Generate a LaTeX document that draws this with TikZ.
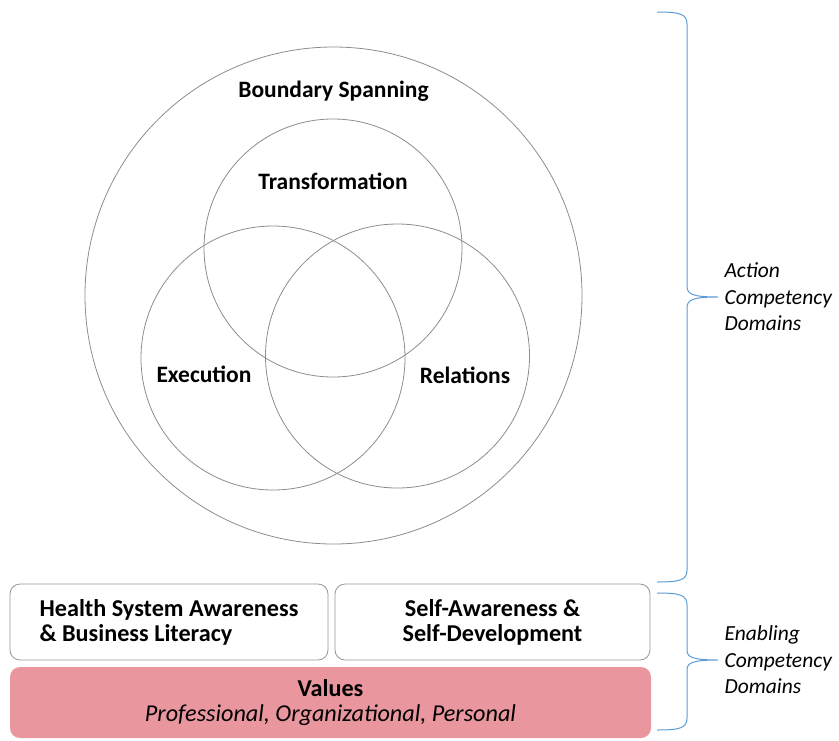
\documentclass[tikz,border=0pt]{standalone}
\usepackage{fontspec}
\setmainfont{Carlito}
\usetikzlibrary{positioning}
\definecolor{ringgray}{RGB}{140,140,140}
\definecolor{boxgray}{RGB}{150,150,150}
\definecolor{valuepink}{RGB}{233,150,158}
\definecolor{braceblue}{RGB}{91,155,213}

\begin{document}
\begin{tikzpicture}[x=1pt, y=-1pt,
    every node/.style={align=center, font=\fontsize{23.5}{25}\selectfont\bfseries},
    ring/.style={draw=ringgray, line width=0.8pt, circle, inner sep=0pt},
    dombox/.style={draw=boxgray, line width=0.8pt, rounded corners=10pt, minimum height=76pt, inner sep=0pt,
      font=\fontsize{24.2}{25}\selectfont\bfseries},
    sidelbl/.style={anchor=west, align=left, font=\fontsize{21.5}{26.5}\selectfont\itshape},
    bracepath/.style={draw=braceblue, line width=1pt}]
  \useasboundingbox (0,0) rectangle (839,740);

  % Action domains - rings
  \node (bspan) [ring, minimum size=497pt] at (333.5,295.5) {};
  \node (transf) [ring, minimum size=258pt] at (333,248) {};
  \node (exec) [ring, minimum size=264pt] at (273,358) {};
  \node (relat) [ring, minimum size=264pt] at (397.5,356) {};

  % Action domains - labels
  \node (bspanlbl) at (333.5,91) {Boundary Spanning};
  \node (transflbl) at (333,181) {Transformation};
  \node (execlbl) at (204,374) {Execution};
  \node (relatlbl) at (465,375) {Relations};

  % Enabling domains - boxes
  \node (health) [dombox, minimum width=318pt, align=left] at (169,622) {Health System Awareness\\\& Business Literacy};
  \node (self) [dombox, minimum width=315pt] at (492.5,622) {Self-Awareness \&\\Self-Development};
  \node (values) [dombox, draw=none, fill=valuepink, minimum width=641pt, minimum height=71pt] at (330.5,702.5)
    {Values\\{\mdseries\itshape Professional, Organizational, Personal}};

  % Braces
  \draw[bracepath] (657,12) .. controls (680,12) and (687,14) .. (687,24) -- (687,286)
    .. controls (687,294) and (692,297) .. (718,297)
    .. controls (692,297) and (687,300) .. (687,308) -- (687,570)
    .. controls (687,580) and (680,582) .. (657,582);
  \draw[bracepath] (657,593) .. controls (680,593) and (687,595) .. (687,605) -- (687,650)
    .. controls (687,657) and (692,660) .. (718,660)
    .. controls (692,660) and (687,663) .. (687,670) -- (687,718)
    .. controls (687,728) and (680,730) .. (657,730);

  % Brace labels
  \node (actionlbl) [sidelbl] at (721,297) {Action\\Competency\\Domains};
  \node (enablelbl) [sidelbl] at (721,660) {Enabling\\Competency\\Domains};
\end{tikzpicture}
\end{document}
